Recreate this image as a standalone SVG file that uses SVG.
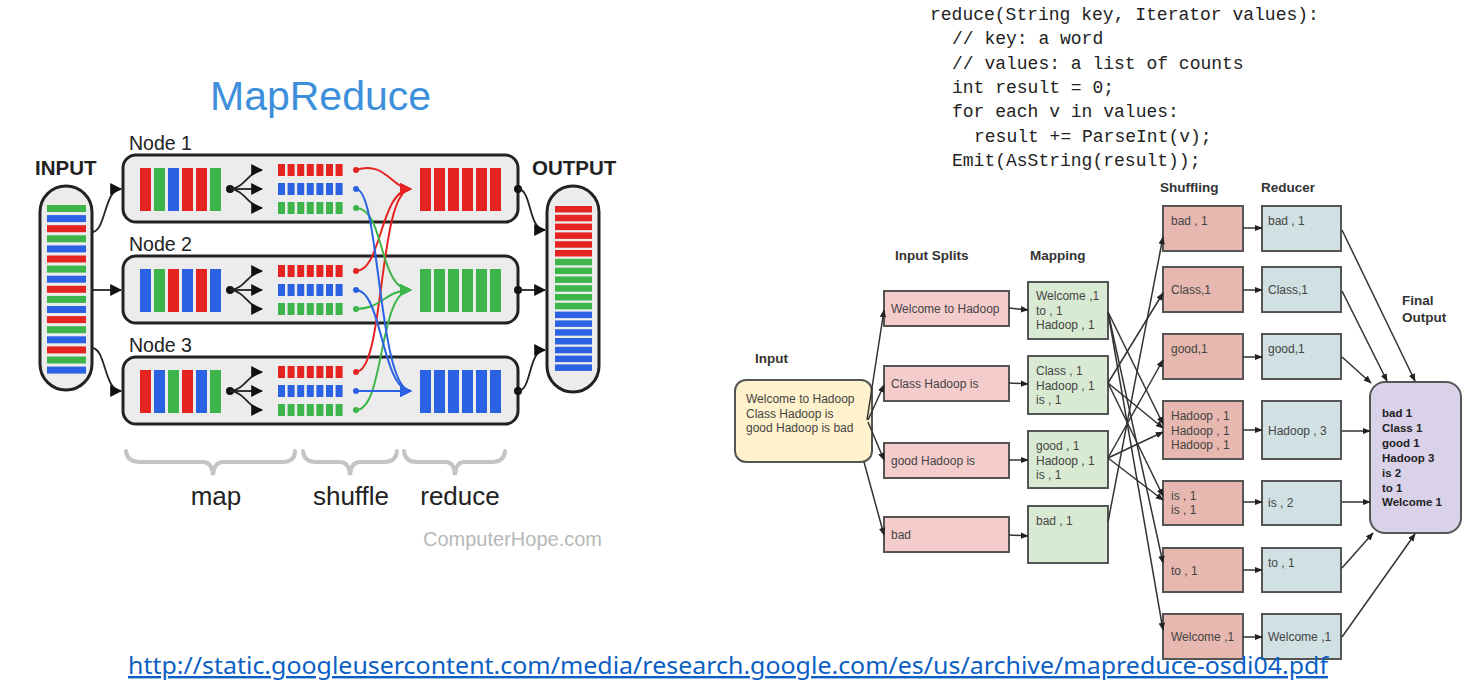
<svg xmlns="http://www.w3.org/2000/svg" xmlns:xlink="http://www.w3.org/1999/xlink" width="1471" height="693" viewBox="0 0 1471 693">
<style>
.r{fill:#e52421}.g{fill:#3db54a}.b{fill:#2b62e3}
.nodebox{fill:#ececec;stroke:#222;stroke-width:3}
.cap{fill:#ececec;stroke:#222;stroke-width:3}
.lbl{font-family:"Liberation Sans",Arial,sans-serif;fill:#222}
.bold{font-weight:bold}
.kc{stroke:#222;stroke-width:1.8;fill:none}
.sr{stroke:#e52421;stroke-width:2;fill:none}
.sg{stroke:#3db54a;stroke-width:2;fill:none}
.sb{stroke:#2b62e3;stroke-width:2;fill:none}
.brace{stroke:#c4c4c4;stroke-width:4;fill:none;stroke-linecap:round}
.code{font-family:"Liberation Mono","Courier New",monospace;font-size:18px;fill:#222}
.rt{font-family:"Liberation Sans",Arial,sans-serif;font-size:12px;fill:#444}
.rh{font-family:"Liberation Sans",Arial,sans-serif;font-size:13.5px;font-weight:bold;fill:#333}
.split{fill:#f4cccc;stroke:#555;stroke-width:2}
.map{fill:#d9ead3;stroke:#555;stroke-width:2}
.shuf{fill:#e6b8af;stroke:#555;stroke-width:2}
.red{fill:#d0e0e3;stroke:#555;stroke-width:2}
.ra{stroke:#333;stroke-width:1.5;fill:none;marker-end:url(#ah)}
</style>
<defs>
<marker id="ak" viewBox="0 0 10 10" refX="9" refY="5" markerWidth="12" markerHeight="12" markerUnits="userSpaceOnUse" orient="auto"><path d="M0,0 L10,5 L0,10 z" fill="#111"/></marker>
<marker id="ar" viewBox="0 0 10 10" refX="9" refY="5" markerWidth="12" markerHeight="12" markerUnits="userSpaceOnUse" orient="auto"><path d="M0,0 L10,5 L0,10 z" fill="#e52421"/></marker>
<marker id="ag" viewBox="0 0 10 10" refX="9" refY="5" markerWidth="12" markerHeight="12" markerUnits="userSpaceOnUse" orient="auto"><path d="M0,0 L10,5 L0,10 z" fill="#3db54a"/></marker>
<marker id="ab" viewBox="0 0 10 10" refX="9" refY="5" markerWidth="12" markerHeight="12" markerUnits="userSpaceOnUse" orient="auto"><path d="M0,0 L10,5 L0,10 z" fill="#2b62e3"/></marker>
<marker id="ah" viewBox="0 0 10 10" refX="9" refY="5" markerWidth="8" markerHeight="8" markerUnits="userSpaceOnUse" orient="auto"><path d="M0,1 L10,5 L0,9 z" fill="#222"/></marker>
<g id="sqrow"><rect x="0" y="0" width="7" height="12"/><rect x="9.6" y="0" width="7" height="12"/><rect x="19.2" y="0" width="7" height="12"/><rect x="28.8" y="0" width="7" height="12"/><rect x="38.4" y="0" width="7" height="12"/><rect x="48" y="0" width="7" height="12"/><rect x="57.6" y="0" width="7" height="12"/></g>
<g id="bars6"><rect x="0" y="0" width="11" height="43"/><rect x="14" y="0" width="11" height="43"/><rect x="28" y="0" width="11" height="43"/><rect x="42" y="0" width="11" height="43"/><rect x="56" y="0" width="11" height="43"/><rect x="70" y="0" width="11" height="43"/></g>
<g id="fork"><circle cx="0" cy="0" r="4" fill="#111"/><path d="M0,0 C14,0 20,-19 32,-19" class="kc" marker-end="url(#ak)"/><path d="M0,0 L32,0" class="kc" marker-end="url(#ak)"/><path d="M0,0 C14,0 20,19 32,19" class="kc" marker-end="url(#ak)"/></g>
</defs>
<rect width="1471" height="693" fill="#fff"/>

<!-- LEFT: MapReduce illustration -->
<g id="title"><text x="210" y="110" class="lbl" font-size="41" style="fill:#3d8fdb">MapReduce</text></g>

<g id="input">
<text x="35" y="175" class="lbl bold" font-size="20.5">INPUT</text>
<rect x="40" y="186" width="52" height="204" rx="26" class="cap"/>
<rect x="47" y="205" width="39" height="7" class="g"/><rect x="47" y="215.1" width="39" height="7" class="b"/><rect x="47" y="225.2" width="39" height="7" class="r"/>
<rect x="47" y="235.3" width="39" height="7" class="g"/><rect x="47" y="245.4" width="39" height="7" class="b"/><rect x="47" y="255.5" width="39" height="7" class="r"/>
<rect x="47" y="265.6" width="39" height="7" class="g"/><rect x="47" y="275.7" width="39" height="7" class="b"/><rect x="47" y="285.8" width="39" height="7" class="r"/>
<rect x="47" y="295.9" width="39" height="7" class="g"/><rect x="47" y="306" width="39" height="7" class="b"/><rect x="47" y="316.1" width="39" height="7" class="r"/>
<rect x="47" y="326.2" width="39" height="7" class="g"/><rect x="47" y="336.3" width="39" height="7" class="b"/><rect x="47" y="346.4" width="39" height="7" class="r"/>
<rect x="47" y="356.5" width="39" height="7" class="g"/><rect x="47" y="366.6" width="39" height="7" class="b"/>
</g>

<g id="node1">
<text x="129" y="150" class="lbl" font-size="19.5">Node 1</text>
<rect x="123" y="155" width="395" height="67" rx="13" class="nodebox"/>
<rect x="140" y="168" width="11" height="43" class="r"/><rect x="154" y="168" width="11" height="43" class="g"/><rect x="168" y="168" width="11" height="43" class="b"/><rect x="182" y="168" width="11" height="43" class="r"/><rect x="196" y="168" width="11" height="43" class="r"/><rect x="210" y="168" width="11" height="43" class="g"/>
<use xlink:href="#fork" x="230" y="189"/>
<use xlink:href="#sqrow" x="278" y="164" class="r"/><use xlink:href="#sqrow" x="278" y="183" class="b"/><use xlink:href="#sqrow" x="278" y="202" class="g"/>
<use xlink:href="#bars6" x="420" y="168" class="r"/>
</g>

<g id="node2">
<text x="129" y="251" class="lbl" font-size="19.5">Node 2</text>
<rect x="123" y="256" width="395" height="67" rx="13" class="nodebox"/>
<rect x="140" y="269" width="11" height="43" class="b"/><rect x="154" y="269" width="11" height="43" class="g"/><rect x="168" y="269" width="11" height="43" class="r"/><rect x="182" y="269" width="11" height="43" class="b"/><rect x="196" y="269" width="11" height="43" class="r"/><rect x="210" y="269" width="11" height="43" class="b"/>
<use xlink:href="#fork" x="230" y="290"/>
<use xlink:href="#sqrow" x="278" y="265" class="r"/><use xlink:href="#sqrow" x="278" y="284" class="b"/><use xlink:href="#sqrow" x="278" y="303" class="g"/>
<use xlink:href="#bars6" x="420" y="269" class="g"/>
</g>

<g id="node3">
<text x="129" y="352" class="lbl" font-size="19.5">Node 3</text>
<rect x="123" y="357" width="395" height="67" rx="13" class="nodebox"/>
<rect x="140" y="370" width="11" height="43" class="r"/><rect x="154" y="370" width="11" height="43" class="b"/><rect x="168" y="370" width="11" height="43" class="g"/><rect x="182" y="370" width="11" height="43" class="r"/><rect x="196" y="370" width="11" height="43" class="b"/><rect x="210" y="370" width="11" height="43" class="g"/>
<use xlink:href="#fork" x="230" y="391"/>
<use xlink:href="#sqrow" x="278" y="366" class="r"/><use xlink:href="#sqrow" x="278" y="385" class="b"/><use xlink:href="#sqrow" x="278" y="404" class="g"/>
<use xlink:href="#bars6" x="420" y="370" class="b"/>
</g>

<g id="output">
<text x="532" y="175" class="lbl bold" font-size="20.5">OUTPUT</text>
<rect x="547" y="186" width="52" height="206" rx="26" class="cap"/>
<rect x="555" y="206" width="37" height="6.5" class="r"/><rect x="555" y="214.8" width="37" height="6.5" class="r"/><rect x="555" y="223.6" width="37" height="6.5" class="r"/><rect x="555" y="232.4" width="37" height="6.5" class="r"/><rect x="555" y="241.2" width="37" height="6.5" class="r"/><rect x="555" y="250" width="37" height="6.5" class="r"/>
<rect x="555" y="258.8" width="37" height="6.5" class="g"/><rect x="555" y="267.6" width="37" height="6.5" class="g"/><rect x="555" y="276.4" width="37" height="6.5" class="g"/><rect x="555" y="285.2" width="37" height="6.5" class="g"/><rect x="555" y="294" width="37" height="6.5" class="g"/><rect x="555" y="302.8" width="37" height="6.5" class="g"/>
<rect x="555" y="311.6" width="37" height="6.5" class="b"/><rect x="555" y="320.4" width="37" height="6.5" class="b"/><rect x="555" y="329.2" width="37" height="6.5" class="b"/><rect x="555" y="338" width="37" height="6.5" class="b"/><rect x="555" y="346.8" width="37" height="6.5" class="b"/><rect x="555" y="355.6" width="37" height="6.5" class="b"/><rect x="555" y="364.4" width="37" height="6.5" class="b"/>
</g>

<g id="left-connectors">
<path d="M92,232 C106,232 104,189 121,189" class="kc" marker-end="url(#ak)"/>
<path d="M92,290 L121,290" class="kc" marker-end="url(#ak)"/>
<path d="M92,348 C106,348 104,391 121,391" class="kc" marker-end="url(#ak)"/>
<circle cx="518" cy="189" r="4" fill="#111"/><path d="M518,189 C532,189 528,230 545,230" class="kc" marker-end="url(#ak)"/>
<circle cx="518" cy="290" r="4" fill="#111"/><path d="M518,290 L545,290" class="kc" marker-end="url(#ak)"/>
<circle cx="518" cy="391" r="4" fill="#111"/><path d="M518,391 C532,391 528,350 545,350" class="kc" marker-end="url(#ak)"/>
<!-- shuffle -->
<g fill="#e52421"><circle cx="356" cy="170" r="3"/><circle cx="356" cy="271" r="3"/><circle cx="356" cy="372" r="3"/></g>
<g fill="#2b62e3"><circle cx="356" cy="189" r="3"/><circle cx="356" cy="290" r="3"/><circle cx="356" cy="391" r="3"/></g>
<g fill="#3db54a"><circle cx="356" cy="208" r="3"/><circle cx="356" cy="309" r="3"/><circle cx="356" cy="410" r="3"/></g>
<path d="M356,170 C385,160 392,189 411,189" class="sr" marker-end="url(#ar)"/>
<path d="M356,271 C382,271 380,189 411,189" class="sr" marker-end="url(#ar)"/>
<path d="M356,372 C385,372 378,189 411,189" class="sr" marker-end="url(#ar)"/>
<path d="M356,208 C385,208 378,290 411,290" class="sg" marker-end="url(#ag)"/>
<path d="M356,309 C382,309 385,290 411,290" class="sg" marker-end="url(#ag)"/>
<path d="M356,410 C385,410 378,290 411,290" class="sg" marker-end="url(#ag)"/>
<path d="M356,189 C380,189 378,391 411,391" class="sb" marker-end="url(#ab)"/>
<path d="M356,290 C382,290 382,391 411,391" class="sb" marker-end="url(#ab)"/>
<path d="M356,391 L411,391" class="sb" marker-end="url(#ab)"/>
</g>

<g id="phases">
<path d="M126,451 Q127,462 140,462 L203,462 Q212,462 213,475 Q214,462 223,462 L282,462 Q295,462 295,451" class="brace"/>
<path d="M303,451 Q304,462 316,462 L340,462 Q349,462 350,475 Q351,462 360,462 L384,462 Q396,462 397,451" class="brace"/>
<path d="M404,451 Q405,462 417,462 L446,462 Q454,462 455,475 Q456,462 464,462 L492,462 Q504,462 505,451" class="brace"/>
<text x="216" y="505" class="lbl" font-size="26" text-anchor="middle">map</text>
<text x="351" y="505" class="lbl" font-size="26" text-anchor="middle">shuffle</text>
<text x="460" y="505" class="lbl" font-size="26" text-anchor="middle">reduce</text>
<text x="423" y="546" class="lbl" font-size="20" style="fill:#b8b8b8">ComputerHope.com</text>
</g>

<!-- RIGHT: code -->
<g id="code">
<text x="930" y="20" class="code">reduce(String key, Iterator values):</text>
<text x="952" y="44" class="code">// key: a word</text>
<text x="952" y="69" class="code">// values: a list of counts</text>
<text x="952" y="93" class="code">int result = 0;</text>
<text x="952" y="117" class="code">for each v in values:</text>
<text x="974" y="142" class="code">result += ParseInt(v);</text>
<text x="952" y="166" class="code">Emit(AsString(result));</text>
</g>

<!-- RIGHT: word count flow -->
<g id="headers">
<text x="755" y="363" class="rh">Input</text>
<text x="895" y="260" class="rh">Input Splits</text>
<text x="1030" y="260" class="rh">Mapping</text>
<text x="1160" y="192" class="rh">Shuffling</text>
<text x="1261" y="192" class="rh">Reducer</text>
<text x="1402" y="305" class="rh">Final</text>
<text x="1402" y="322" class="rh">Output</text>
</g>

<g id="input-box">
<rect x="735" y="380" width="137" height="82" rx="11" fill="#fff2cc" stroke="#555" stroke-width="2"/>
<text x="746" y="403" class="rt">Welcome to Hadoop</text>
<text x="746" y="418" class="rt">Class Hadoop is</text>
<text x="746" y="432" class="rt">good Hadoop is bad</text>
</g>

<g id="split1"><rect x="884" y="291" width="125" height="35" class="split"/><text x="891" y="313" class="rt">Welcome to Hadoop</text></g>
<g id="split2"><rect x="884" y="366" width="125" height="35" class="split"/><text x="891" y="388" class="rt">Class Hadoop is</text></g>
<g id="split3"><rect x="884" y="443" width="125" height="35" class="split"/><text x="891" y="465" class="rt">good Hadoop is</text></g>
<g id="split4"><rect x="884" y="517" width="125" height="35" class="split"/><text x="891" y="539" class="rt">bad</text></g>

<g id="map1"><rect x="1028" y="282" width="80" height="57" class="map"/><text x="1036" y="300" class="rt">Welcome ,1</text><text x="1036" y="315" class="rt">to , 1</text><text x="1036" y="329" class="rt">Hadoop , 1</text></g>
<g id="map2"><rect x="1028" y="356" width="80" height="58" class="map"/><text x="1036" y="375" class="rt">Class , 1</text><text x="1036" y="390" class="rt">Hadoop , 1</text><text x="1036" y="404" class="rt">is , 1</text></g>
<g id="map3"><rect x="1028" y="431" width="80" height="57" class="map"/><text x="1036" y="450" class="rt">good , 1</text><text x="1036" y="465" class="rt">Hadoop , 1</text><text x="1036" y="479" class="rt">is , 1</text></g>
<g id="map4"><rect x="1028" y="506" width="80" height="57" class="map"/><text x="1036" y="525" class="rt">bad , 1</text></g>

<g id="shuf1"><rect x="1163" y="206" width="80" height="45" class="shuf"/><text x="1171" y="225" class="rt">bad , 1</text></g>
<g id="shuf2"><rect x="1163" y="267" width="80" height="45" class="shuf"/><text x="1171" y="294" class="rt">Class,1</text></g>
<g id="shuf3"><rect x="1163" y="334" width="80" height="45" class="shuf"/><text x="1171" y="353" class="rt">good,1</text></g>
<g id="shuf4"><rect x="1163" y="401" width="80" height="58" class="shuf"/><text x="1171" y="420" class="rt">Hadoop , 1</text><text x="1171" y="435" class="rt">Hadoop , 1</text><text x="1171" y="449" class="rt">Hadoop , 1</text></g>
<g id="shuf5"><rect x="1163" y="481" width="80" height="44" class="shuf"/><text x="1171" y="500" class="rt">is , 1</text><text x="1171" y="514" class="rt">is , 1</text></g>
<g id="shuf6"><rect x="1163" y="548" width="80" height="44" class="shuf"/><text x="1171" y="575" class="rt">to ,  1</text></g>
<g id="shuf7"><rect x="1163" y="614" width="80" height="45" class="shuf"/><text x="1171" y="641" class="rt">Welcome ,1</text></g>

<g id="red1"><rect x="1262" y="206" width="79" height="45" class="red"/><text x="1268" y="225" class="rt">bad , 1</text></g>
<g id="red2"><rect x="1262" y="267" width="79" height="45" class="red"/><text x="1268" y="294" class="rt">Class,1</text></g>
<g id="red3"><rect x="1262" y="334" width="79" height="45" class="red"/><text x="1268" y="353" class="rt">good,1</text></g>
<g id="red4"><rect x="1262" y="401" width="79" height="58" class="red"/><text x="1268" y="435" class="rt">Hadoop , 3</text></g>
<g id="red5"><rect x="1262" y="481" width="79" height="44" class="red"/><text x="1268" y="507" class="rt">is , 2</text></g>
<g id="red6"><rect x="1262" y="548" width="79" height="44" class="red"/><text x="1268" y="567" class="rt">to ,  1</text></g>
<g id="red7"><rect x="1262" y="614" width="79" height="45" class="red"/><text x="1268" y="641" class="rt">Welcome ,1</text></g>

<g id="final">
<rect x="1370" y="382" width="91" height="151" rx="15" fill="#d9d2e9" stroke="#555" stroke-width="2"/>
<g class="rt" style="font-weight:bold;fill:#222;font-size:11.5px">
<text x="1382" y="417">bad 1</text><text x="1382" y="432">Class 1</text><text x="1382" y="447">good 1</text><text x="1382" y="462">Hadoop 3</text><text x="1382" y="477">is 2</text><text x="1382" y="492">to 1</text><text x="1382" y="506">Welcome 1</text>
</g>
</g>

<g id="right-connectors">
<path d="M867,420 L884,310" class="ra"/>
<path d="M868,420 L884,385" class="ra"/>
<path d="M868,422 L884,460" class="ra"/>
<path d="M864,462 L884,535" class="ra"/>
<path d="M1009,308 L1028,310" class="ra"/>
<path d="M1009,383 L1028,384" class="ra"/>
<path d="M1009,460 L1028,460" class="ra"/>
<path d="M1009,535 L1028,536" class="ra"/>
<path d="M1108,312 L1163,630" class="ra"/>
<path d="M1108,312 L1163,563" class="ra"/>
<path d="M1108,312 L1163,424" class="ra"/>
<path d="M1108,383 L1163,293" class="ra"/>
<path d="M1108,383 L1163,428" class="ra"/>
<path d="M1108,383 L1163,496" class="ra"/>
<path d="M1108,458 L1163,360" class="ra"/>
<path d="M1108,458 L1163,432" class="ra"/>
<path d="M1108,458 L1163,500" class="ra"/>
<path d="M1108,522 L1163,237" class="ra"/>
<path d="M1243,228 L1262,228" class="ra"/>
<path d="M1243,290 L1262,290" class="ra"/>
<path d="M1243,357 L1262,357" class="ra"/>
<path d="M1243,430 L1262,430" class="ra"/>
<path d="M1243,502 L1262,502" class="ra"/>
<path d="M1243,570 L1262,570" class="ra"/>
<path d="M1243,637 L1262,637" class="ra"/>
<path d="M1342,230 L1415,381" class="ra"/>
<path d="M1342,291 L1387,381" class="ra"/>
<path d="M1342,357 L1371,383" class="ra"/>
<path d="M1342,431 L1370,431" class="ra"/>
<path d="M1342,502 L1370,502" class="ra"/>
<path d="M1342,568 L1373,533" class="ra"/>
<path d="M1342,637 L1415,534" class="ra"/>
</g>

<g id="link">
<text x="128" y="674" font-family="'Noto Sans','Liberation Sans',sans-serif" font-size="24" fill="#0b5fc4" text-decoration="underline" textLength="1200" lengthAdjust="spacingAndGlyphs">http://static.googleusercontent.com/media/research.google.com/es/us/archive/mapreduce-osdi04.pdf</text>
</g>
</svg>
